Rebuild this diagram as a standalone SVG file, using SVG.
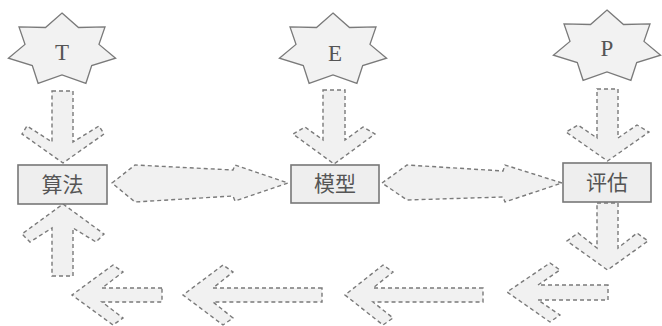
<svg xmlns="http://www.w3.org/2000/svg" xmlns:xlink="http://www.w3.org/1999/xlink" width="662" height="326" viewBox="0 0 662 326">
<style>
.star{fill:#f2f2f2;stroke:#7a7a7a;stroke-width:1.3}
.box{fill:#eeeeee;stroke:#777;stroke-width:1.6}
.arr{fill:#f1f1f1;stroke:#7a7a7a;stroke-width:1.4;stroke-dasharray:4 3}
.lt{font-family:"Liberation Serif","DejaVu Serif",serif;font-size:23px;fill:#555;text-anchor:middle}
.cj{font-family:"Noto Sans CJK SC",sans-serif;font-size:21px;fill:#555;text-anchor:middle}
</style>
<defs>
<polygon id="star" points="0,-37 16.5,-22.5 43,-23.1 37,-5.6 53.6,8.2 29.7,15.6 23.9,33.3 0,25 -23.9,33.3 -29.7,15.6 -53.6,8.2 -37,-5.6 -43,-23.1 -16.5,-22.5"/>
</defs>
<rect width="662" height="326" fill="#fff"/>
<g id="connectors">
<path class="arr" d="M52,91 H73 V142 L99,126 L104,134 L63,163 L22,134 L27,126 L52,142 Z"/>
<path class="arr" d="M52,276 H73 V228 L96,242 L104,234 L63,204 L22,234 L30,242 L52,228 Z"/>
<path class="arr" d="M323,90 H345 V140 L363,127 L375,134 L334,164 L293,134 L305,127 L323,140 Z"/>
<path class="arr" d="M597,89 H618 V138 L637,125 L649,132 L607.5,161 L566,132 L578,125 L597,138 Z"/>
<path class="arr" d="M597,203 H618 V248 L637,233 L648,241 L607.5,270 L567,241 L578,233 L597,248 Z"/>
<path class="arr" d="M112,183 L135,165 L233,170 L235,165 L288,183 L235,201 L233,196 L135,202 Z"/>
<path class="arr" d="M382,183 L407,165 L503,171 L505,165 L562,183 L505,202 L503,197 L407,200 Z"/>
<path class="arr" d="M608,285 H538 L560,270 L550,263 L507,292 L550,322 L560,315 L538,300 H608 Z"/>
<path class="arr" d="M483,288 H373 L393,272 L383,265 L345,295 L383,325 L393,318 L373,302 H483 Z"/>
<path class="arr" d="M322,288 H213 L233,272 L223,265 L183,295 L223,325 L233,318 L213,302 H322 Z"/>
<path class="arr" d="M162,288 H102 L123,272 L113,265 L72,295 L113,325 L123,318 L102,302 H162 Z"/>
</g>
<g id="T"><use xlink:href="#star" href="#star" class="star" transform="translate(62,50)"/><text class="lt" x="62" y="60">T</text></g>
<g id="E"><use xlink:href="#star" href="#star" class="star" transform="translate(333,50)"/><text class="lt" x="335" y="61">E</text></g>
<g id="P"><use xlink:href="#star" href="#star" class="star" transform="translate(607,47)"/><text class="lt" x="607" y="56">P</text></g>
<g id="suanfa"><rect class="box" x="18" y="165" width="89" height="39"/><text class="cj" x="62.5" y="192">算法</text></g>
<g id="moxing"><rect class="box" x="291" y="165" width="88" height="38"/><text class="cj" x="335" y="191">模型</text></g>
<g id="pinggu"><rect class="box" x="563" y="163" width="88" height="39"/><text class="cj" x="607" y="190">评估</text></g>
</svg>
